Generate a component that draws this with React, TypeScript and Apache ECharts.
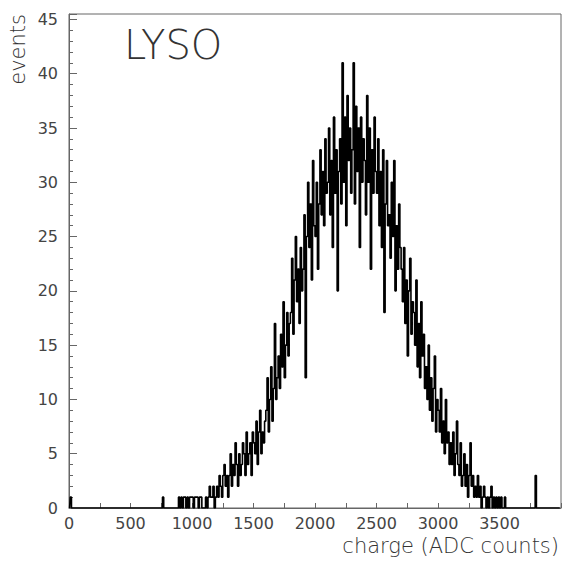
import React, { useEffect, useRef } from "react";
import * as echarts from "echarts";

// Histogram: bin width in ADC counts and first bin of the counts array
const binWidth = 10;
const binStart = 700;
// events per bin, ADC 700 .. 3590 (rows of 10 bins = 100 ADC counts)
const counts: number[] = [
  0, 0, 0, 0, 0, 0, 1, 0, 0, 0, // 700
  0, 0, 0, 0, 0, 0, 0, 0, 0, 1, // 800
  0, 1, 0, 1, 1, 0, 1, 0, 1, 1, // 900
  1, 0, 1, 1, 1, 0, 1, 1, 0, 0, // 1000
  0, 1, 0, 1, 2, 1, 1, 2, 0, 1, // 1100
  2, 1, 3, 2, 1, 3, 4, 2, 3, 1, // 1200
  3, 5, 2, 4, 3, 6, 4, 2, 5, 3, // 1300
  4, 6, 5, 3, 7, 4, 5, 6, 3, 7, // 1400
  6, 5, 8, 4, 7, 9, 5, 7, 6, 8, // 1500
  9, 12, 7, 10, 13, 8, 11, 17, 10, 12, // 1600
  14, 11, 16, 13, 19, 12, 15, 18, 14, 17, // 1700
  18, 23, 16, 21, 25, 19, 22, 17, 24, 20, // 1800
  22, 27, 12, 25, 30, 24, 28, 21, 32, 26, // 1900
  25, 30, 22, 28, 33, 27, 31, 26, 34, 29, // 2000
  30, 35, 27, 32, 24, 36, 29, 33, 20, 31, // 2100
  34, 28, 41, 30, 36, 26, 38, 32, 35, 29, // 2200
  33, 41, 28, 37, 31, 35, 24, 36, 30, 34, // 2300
  32, 27, 38, 30, 35, 22, 33, 29, 36, 31, // 2400
  29, 34, 26, 31, 24, 33, 18, 28, 32, 26, // 2500
  27, 23, 30, 25, 32, 20, 26, 22, 28, 24, // 2600
  22, 19, 24, 17, 21, 14, 20, 23, 16, 19, // 2700
  18, 15, 21, 13, 17, 12, 19, 14, 16, 11, // 2800
  13, 10, 15, 9, 12, 8, 11, 14, 7, 10, // 2900
  9, 7, 11, 6, 8, 5, 10, 6, 7, 4, // 3000
  6, 4, 7, 3, 5, 8, 4, 3, 6, 2, // 3100
  3, 5, 2, 4, 1, 3, 6, 2, 3, 1, // 3200
  2, 1, 3, 1, 2, 0, 1, 2, 1, 0, // 3300
  1, 0, 1, 2, 0, 1, 0, 1, 0, 1, // 3400
  0, 1, 0, 0, 1, 0, 0, 0, 0, 0, // 3500
];
// isolated bins outside the main range: [ADC, events]
const isolatedBins: [number, number][] = [
  [10, 1],
  [3790, 3],
];
const xMax = 4000;
const yMax = 45.5;
const xTickLabels = ["0", "500", "1000", "1500", "2000", "2500", "3000", "3500"];
const yTickLabels = ["0", "5", "10", "15", "20", "25", "30", "35", "40", "45"];

const FONT = "DejaVu Sans";

export default function App() {
  const ref = useRef<HTMLDivElement>(null);
  useEffect(() => {
    if (!ref.current) return;
    const chart = echarts.init(ref.current, undefined, { renderer: "svg" });
    const nBins = Math.round(xMax / binWidth);
    const values = new Array(nBins).fill(0);
    counts.forEach((c, i) => {
      values[Math.round(binStart / binWidth) + i] = c;
    });
    isolatedBins.forEach(([x, c]) => {
      values[Math.round(x / binWidth)] = c;
    });
    const data = values.map((v, i) => [i * binWidth + binWidth / 2, v]);

    chart.setOption({
      animation: false,
      backgroundColor: "#ffffff",
      grid: {
        left: 69,
        right: 2,
        top: 14,
        bottom: 55,
        show: true,
        borderColor: "#666",
        borderWidth: 1,
        backgroundColor: "transparent",
      },
      xAxis: {
        type: "value",
        min: 0,
        max: xMax,
        interval: 500,
        axisLine: { show: true, lineStyle: { color: "#666", width: 1 } },
        axisTick: { show: true, inside: true, length: 5, lineStyle: { color: "#666" } },
        minorTick: { show: true, splitNumber: 2, length: 5, lineStyle: { color: "#666" } },
        splitLine: { show: false },
        axisLabel: {
          margin: 7,
          color: "#444",
          fontSize: 16,
          fontFamily: FONT,
          showMaxLabel: false,
          formatter: (v: number) => {
            const s = String(v);
            return xTickLabels.includes(s) ? s : "";
          },
        },
      },
      yAxis: {
        type: "value",
        min: 0,
        max: yMax,
        interval: 5,
        axisLine: { show: true, lineStyle: { color: "#666", width: 1 } },
        axisTick: { show: true, inside: true, length: 8, lineStyle: { color: "#666" } },
        minorTick: { show: true, splitNumber: 5, length: 4, lineStyle: { color: "#666" } },
        splitLine: { show: false },
        axisLabel: {
          margin: 11,
          color: "#444",
          fontSize: 16,
          fontFamily: FONT,
          showMaxLabel: false,
          formatter: (v: number) => {
            const s = String(v);
            return yTickLabels.includes(s) ? s : "";
          },
        },
      },
      series: [
        {
          type: "line",
          data,
          step: "middle",
          showSymbol: false,
          symbol: "none",
          silent: true,
          lineStyle: { color: "#000", width: 1.6 },
          z: 1,
        },
      ],
      graphic: [
        {
          type: "text",
          left: 124,
          top: 25,
          style: {
            text: "LYSO",
            fontSize: 40,
            fontFamily: FONT,
            fontWeight: 200,
            fill: "#333",
          },
        },
        {
          type: "text",
          right: 4,
          top: 535,
          style: {
            text: "charge (ADC counts)",
            fontSize: 21,
            fontFamily: FONT,
            fontWeight: 200,
            fill: "#333",
          },
        },
        {
          type: "text",
          x: 7,
          y: 14,
          rotation: Math.PI / 2,
          style: {
            text: "events",
            fontSize: 21,
            fontFamily: FONT,
            fontWeight: 200,
            fill: "#333",
            align: "right",
            verticalAlign: "top",
          },
        },
      ],
    });
    return () => chart.dispose();
  }, []);
  return (
    <div
      ref={ref}
      style={{ position: "fixed", left: 0, top: 0, width: 563, height: 563, background: "#fff" }}
    />
  );
}
